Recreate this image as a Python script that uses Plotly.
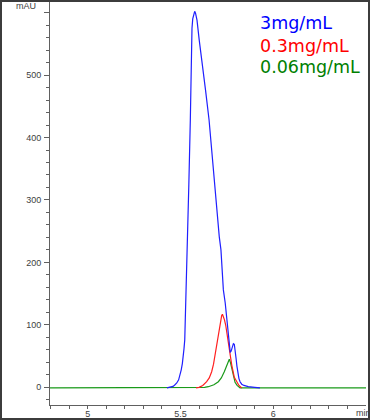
import plotly.graph_objects as go

# ---- data ----
blue_t = [5.427, 5.445, 5.460, 5.469, 5.480, 5.490, 5.498, 5.504, 5.510, 5.515, 5.519, 5.523,
          5.527, 5.530, 5.537, 5.545, 5.553, 5.557, 5.559, 5.562, 5.566, 5.572, 5.5765, 5.581,
          5.585, 5.589, 5.601, 5.616, 5.635, 5.654, 5.681, 5.709, 5.718, 5.731, 5.741, 5.750,
          5.757, 5.763, 5.768, 5.773, 5.779, 5.785, 5.790, 5.795, 5.800, 5.804, 5.810, 5.815,
          5.821, 5.830, 5.842, 5.865, 5.900, 5.928]
blue_v = [-1, 0, 1.5, 3.7, 7, 12, 19, 28, 38, 49, 62, 76,
          115, 156, 220, 325, 428, 524, 556, 575, 590, 599, 602, 599,
          594, 588, 556, 524, 476, 428, 332, 241, 220, 156, 135, 112,
          90, 70, 56, 58, 65, 70, 69, 60, 45, 34, 22, 14,
          9, 5, 3, 1, 0, -1]

red_t = [5.584, 5.600, 5.620, 5.641, 5.655, 5.668, 5.678, 5.686, 5.694, 5.700, 5.708, 5.716,
         5.722, 5.726, 5.731, 5.737, 5.744, 5.751, 5.758, 5.766, 5.776, 5.790, 5.803, 5.815, 5.830]
red_v = [-1, 0, 3, 9, 15, 25, 37, 52, 65, 78, 95, 108,
         115, 117, 114, 108, 99, 85, 68, 52, 36, 16, 8, 3, -1]

green_t = [4.797, 5.605, 5.630, 5.650, 5.680, 5.704, 5.720, 5.736, 5.748, 5.757, 5.763, 5.769,
           5.779, 5.787, 5.794, 5.805, 5.821, 6.4995]
green_v = [-1, -1, 0, 1, 4, 9, 15, 25, 35, 43, 45, 40,
           25, 14, 8, 3, -1, -1]

series_names = ["3mg/mL", "0.3mg/mL", "0.06mg/mL"]
line_colors = ["#1f1fff", "#ff1f1f", "#1a9a1a"]
text_colors = ["#0000ff", "#ff0000", "#008000"]

y_tick_vals = [0, 100, 200, 300, 400, 500, 600]
y_tick_text = ["0", "100", "200", "300", "400", "500", ""]
x_tick_vals = [5, 5.5, 6]
x_tick_text = ["5", "5.5", "6"]

# ---- figure ----
fig = go.Figure()
fig.add_trace(go.Scatter(x=green_t, y=green_v, mode="lines",
                         line=dict(color=line_colors[2], width=1.2), name=series_names[2]))
fig.add_trace(go.Scatter(x=red_t, y=red_v, mode="lines",
                         line=dict(color=line_colors[1], width=1.2), name=series_names[1]))
fig.add_trace(go.Scatter(x=blue_t, y=blue_v, mode="lines",
                         line=dict(color=line_colors[0], width=1.2), name=series_names[0]))

L, R, T, B = 50, 4, 1, 15
W, H = 370, 420
pw, ph = W - L - R, H - T - B

def px(xp):
    return (xp - L) / pw

def py(yp):
    return (H - B - yp) / ph

tick_font = dict(family="Liberation Sans, Arial, sans-serif", size=9, color="#404040")

fig.update_layout(
    width=W, height=H,
    margin=dict(l=L, r=R, t=T, b=B, pad=0),
    paper_bgcolor="white", plot_bgcolor="white",
    showlegend=False,
    xaxis=dict(range=[4.797, 6.4995], showgrid=False, zeroline=False,
               showline=True, linecolor="#606060", linewidth=1,
               ticks="outside", ticklen=3, tickcolor="#606060", tickwidth=1,
               tickmode="array", tickvals=x_tick_vals, ticktext=x_tick_text,
               tickfont=tick_font, automargin=False, ticklabelstandoff=-3,
               minor=dict(dtick=0.1, tick0=0, ticks="outside", ticklen=3,
                          tickcolor="#606060", showgrid=False)),
    yaxis=dict(range=[-28.3, 618.6], showgrid=False, zeroline=False,
               showline=True, linecolor="#606060", linewidth=1,
               ticks="outside", ticklen=5, tickcolor="#606060", tickwidth=1,
               tickmode="array", tickvals=y_tick_vals, ticktext=y_tick_text,
               tickfont=tick_font, automargin=False, ticklabelstandoff=1,
               minor=dict(dtick=20, tick0=0, ticks="outside", ticklen=3,
                          tickcolor="#606060", showgrid=False)),
)

# outer frame
fig.add_shape(type="rect", xref="paper", yref="paper",
              x0=px(1), x1=px(369), y0=py(419), y1=py(1),
              line=dict(color="#3c3c3c", width=2), fillcolor="rgba(0,0,0,0)", layer="above")

# axis unit labels
fig.add_annotation(xref="paper", yref="paper", x=px(26), y=py(6), text="mAU",
                   showarrow=False, font=dict(family="Liberation Sans, Arial, sans-serif", size=9, color="#404040"),
                   xanchor="center", yanchor="middle")
fig.add_annotation(xref="paper", yref="paper", x=px(354), y=py(413), text="min",
                   showarrow=False, font=dict(family="Liberation Sans, Arial, sans-serif", size=9, color="#404040"),
                   xanchor="left", yanchor="middle")

# legend-like labels
label_y = [23.3, 46, 66.7]
for name, col, yp in zip(series_names, text_colors, label_y):
    fig.add_annotation(xref="paper", yref="paper", x=px(258), y=py(yp), text=name,
                       showarrow=False, font=dict(family="DejaVu Sans, Verdana, sans-serif", size=17.5, color=col),
                       xanchor="left", yanchor="middle")

fig.write_html("out.html", config={"displayModeBar": False},
               post_script="document.body.style.margin='0';document.body.style.overflow='hidden';")
